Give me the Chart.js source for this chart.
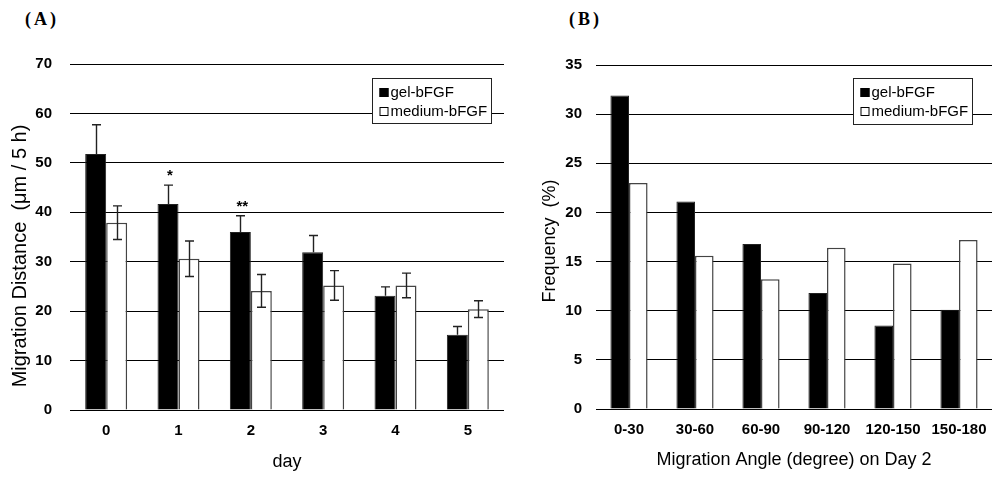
<!DOCTYPE html>
<html>
<head>
<meta charset="utf-8">
<script src="https://cdn.jsdelivr.net/npm/chart.js@4.4.1/dist/chart.umd.min.js"></script>
<style>
  body { margin: 0; background: #fff; width: 992px; height: 477px; position: relative; overflow: hidden; }
  canvas { position: absolute; top: 0; }
  #chartA { left: 0; }
  #chartB { left: 530px; }
  .panel-tag { position: absolute; top: 9px; font: bold 18px "Liberation Serif", "Times New Roman", serif; letter-spacing: 3px; color: #000; }
</style>
</head>
<body>
<div class="panel-tag" style="left:25px">(A)</div>
<div class="panel-tag" style="left:569px">(B)</div>
<canvas id="chartA" width="504" height="477"></canvas>
<canvas id="chartB" width="462" height="477"></canvas>
<script>
// (A) migration distance per day
const dayLabels = ['0', '1', '2', '3', '4', '5'];
const gelDistance = [51.8, 41.7, 36.0, 31.9, 23.1, 15.2];
const gelDistanceErr = [5.9, 3.8, 3.3, 3.4, 1.8, 1.7];
const mediumDistance = [37.9, 30.6, 24.1, 25.2, 25.2, 20.4];
const mediumDistanceErr = [3.4, 3.6, 3.3, 3.0, 2.5, 1.7];
const significance = ['', '*', '**', '', '', ''];

// (B) migration angle histogram on day 2
const angleLabels = ['0-30', '30-60', '60-90', '90-120', '120-150', '150-180'];
const gelFrequency = [31.9, 21.1, 16.8, 11.8, 8.5, 10.1];
const mediumFrequency = [23.0, 15.6, 13.2, 16.4, 14.8, 17.2];

const seriesNames = ['gel-bFGF', 'medium-bFGF'];

const FONT = '"Liberation Sans", Arial, sans-serif';

// error bars: gel only upward, medium both ways
const errorBarPlugin = {
    id: 'errorBars',
    afterDatasetsDraw(chart) {
        const ctx = chart.ctx;
        const yScale = chart.scales.y;
        chart.data.datasets.forEach((ds, i) => {
            if (!ds.errors) return;
            const meta = chart.getDatasetMeta(i);
            ctx.save();
            ctx.strokeStyle = '#222';
            ctx.lineWidth = 1.4;
            meta.data.forEach((bar, j) => {
                const v = ds.data[j];
                const e = ds.errors[j];
                const top = yScale.getPixelForValue(v + e);
                const bottom = ds.errorBoth ? yScale.getPixelForValue(v - e) : bar.y;
                const x = Math.round(bar.x) + 0.5;
                ctx.beginPath();
                ctx.moveTo(x, top);
                ctx.lineTo(x, bottom);
                ctx.moveTo(x - 4.5, top);
                ctx.lineTo(x + 4.5, top);
                if (ds.errorBoth) {
                    ctx.moveTo(x - 4.5, bottom);
                    ctx.lineTo(x + 4.5, bottom);
                }
                ctx.stroke();
            });
            ctx.restore();
        });
    }
};

// asterisks above the gel bars
const starPlugin = {
    id: 'stars',
    afterDatasetsDraw(chart, args, opts) {
        if (!opts.marks) return;
        const ctx = chart.ctx;
        const ds = chart.data.datasets[0];
        const meta = chart.getDatasetMeta(0);
        ctx.save();
        ctx.fillStyle = '#000';
        ctx.font = 'bold 15px ' + FONT;
        ctx.textAlign = 'center';
        ctx.textBaseline = 'alphabetic';
        opts.marks.forEach((m, j) => {
            if (!m) return;
            const top = chart.scales.y.getPixelForValue(ds.data[j] + (ds.errors ? ds.errors[j] : 0));
            ctx.fillText(m, meta.data[j].x + 2, top - 5);
        });
        ctx.restore();
    }
};

// boxed legend sitting over the grid
const boxLegendPlugin = {
    id: 'boxLegend',
    afterDraw(chart, args, opts) {
        const ctx = chart.ctx;
        const {x, y, w, h} = opts;
        ctx.save();
        ctx.fillStyle = '#fff';
        ctx.fillRect(x, y, w, h);
        ctx.strokeStyle = '#222';
        ctx.lineWidth = 1;
        ctx.strokeRect(x, y, w, h);
        ctx.font = '15px ' + FONT;
        ctx.textBaseline = 'middle';
        chart.data.datasets.forEach((ds, i) => {
            const cy = y + 14.5 + i * 19;
            ctx.fillStyle = ds.backgroundColor;
            ctx.fillRect(x + 7, cy - 5, 9, 9);
            ctx.strokeStyle = '#000';
            ctx.strokeRect(x + 7.5, cy - 4.5, 8, 8);
            ctx.fillStyle = '#000';
            ctx.fillText(ds.label, x + 18, cy);
        });
        ctx.restore();
    }
};

// y-axis title, drawn at its own spot instead of centred on the axis
const sideTitlePlugin = {
    id: 'sideTitle',
    afterDraw(chart, args, opts) {
        const ctx = chart.ctx;
        ctx.save();
        ctx.translate(opts.x, opts.y);
        ctx.rotate(-Math.PI / 2);
        ctx.font = opts.size + 'px ' + FONT;
        ctx.fillStyle = '#000';
        ctx.textAlign = 'center';
        ctx.textBaseline = 'middle';
        ctx.fillText(chart.options.scales.y.title.text, 0, 0);
        ctx.restore();
    }
};

function makeChart(id, cfg) {
    return new Chart(document.getElementById(id), {
        type: 'bar',
        data: {
            labels: cfg.labels,
            datasets: [{
                label: seriesNames[0],
                data: cfg.gel,
                errors: cfg.gelErr,
                errorBoth: false,
                backgroundColor: '#000',
                borderColor: '#222',
                borderWidth: 1,
                categoryPercentage: cfg.catPct,
                barPercentage: 1.0
            }, {
                label: seriesNames[1],
                data: cfg.medium,
                errors: cfg.mediumErr,
                errorBoth: true,
                backgroundColor: '#fff',
                borderColor: '#444',
                borderWidth: 1.5,
                categoryPercentage: cfg.catPct,
                barPercentage: 1.0
            }]
        },
        options: {
            responsive: false,
            animation: false,
            devicePixelRatio: 1,
            layout: { padding: { top: cfg.top, right: 0, bottom: 0, left: 0 } },
            plugins: {
                legend: { display: false },
                tooltip: { enabled: false },
                stars: { marks: cfg.marks },
                boxLegend: cfg.legendBox,
                sideTitle: cfg.yTitlePos
            },
            scales: {
                x: {
                    grid: { display: false },
                    border: { display: false },
                    ticks: { color: '#000', font: { family: FONT, size: 15, weight: 'bold' }, padding: 4 },
                    title: {
                        display: true, text: cfg.xTitle, color: '#000',
                        font: { family: FONT, size: 18 }, padding: { top: 0, bottom: cfg.xTitlePad }
                    },
                    afterFit: (s) => { s.height = cfg.xHeight; }
                },
                y: {
                    min: 0, max: cfg.yMax,
                    grid: { color: '#000', lineWidth: 1, drawTicks: false },
                    border: { display: false },
                    ticks: { stepSize: cfg.yStep, color: '#000', font: { family: FONT, size: 15, weight: 'bold' }, padding: cfg.yTickPad },
                    title: { display: false, text: cfg.yTitle },
                    afterFit: (s) => { s.width = cfg.yWidth; }
                }
            }
        },
        plugins: [errorBarPlugin, starPlugin, boxLegendPlugin, sideTitlePlugin]
    });
}

makeChart('chartA', {
    labels: dayLabels,
    gel: gelDistance, gelErr: gelDistanceErr,
    medium: mediumDistance, mediumErr: mediumDistanceErr,
    marks: significance,
    catPct: 0.58,
    yMax: 70, yStep: 10,
    xTitle: 'day', yTitle: 'Migration Distance  (\u03bcm / 5 h)',
    top: 64, xHeight: 67, yWidth: 70,
    yTickPad: 18, xTitlePad: 4,
    yTitlePos: { x: 20, y: 256, size: 20 },
    legendBox: { x: 372.5, y: 78.5, w: 119, h: 45 }
});

makeChart('chartB', {
    labels: angleLabels,
    gel: gelFrequency, gelErr: null,
    medium: mediumFrequency, mediumErr: null,
    marks: null,
    catPct: 0.563,
    yMax: 35, yStep: 5,
    xTitle: 'Migration Angle (degree) on Day 2', yTitle: 'Frequency  (%)',
    top: 65, xHeight: 68, yWidth: 66,
    yTickPad: 14, xTitlePad: 6,
    yTitlePos: { x: 20, y: 241, size: 18 },
    legendBox: { x: 323.5, y: 78.5, w: 119, h: 46 }
});
</script>
</body>
</html>
